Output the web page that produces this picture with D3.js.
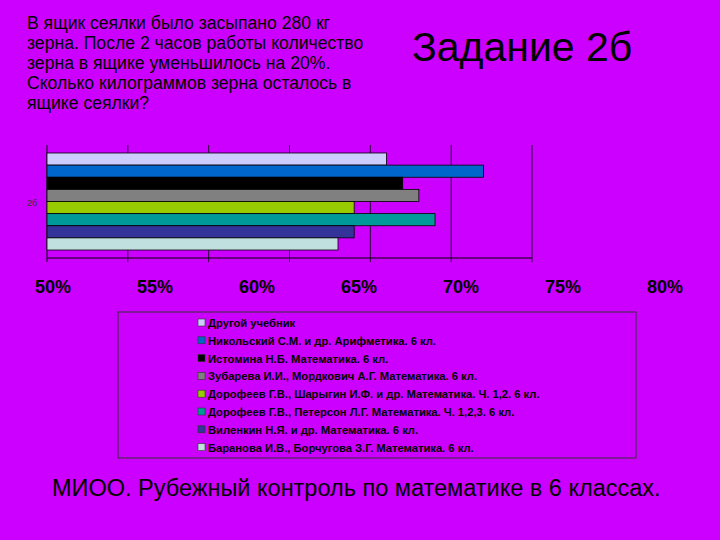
<!DOCTYPE html>
<html><head><meta charset="utf-8">
<script src="https://cdn.jsdelivr.net/npm/d3@7"></script>
<style>body{margin:0;background:#cc00ff;}svg{display:block;font-family:"Liberation Sans",Arial,sans-serif;}</style>
</head><body><svg id="c" width="720" height="540"></svg>
<script>
// series in drawing order (top to bottom)
const books = ["Другой учебник","Никольский С.М. и др. Арифметика. 6 кл.","Истомина Н.Б. Математика. 6 кл.","Зубарева И.И., Мордкович А.Г. Математика. 6 кл.","Дорофеев Г.В., Шарыгин И.Ф. и др. Математика. Ч. 1,2. 6 кл.","Дорофеев Г.В., Петерсон Л.Г. Математика. Ч. 1,2,3. 6 кл.","Виленкин Н.Я. и др. Математика. 6 кл.","Баранова И.В., Борчугова З.Г. Математика. 6 кл."];
const values = [71, 77, 72, 73, 69, 74, 69, 68];
const colors = ["#ccccff","#0066cc","#000000","#808080","#99cc00","#009999","#333399","#c0e0e0"];
const ticks = [50, 55, 60, 65, 70, 75, 80];

const svg = d3.select("#c");
svg.append("rect").attr("width",720).attr("height",540).attr("fill","#cc00ff");

const title = ["В ящик сеялки было засыпано 280  кг","зерна. После 2 часов работы количество","зерна в ящике уменьшилось на 20%.","Сколько килограммов зерна осталось в","ящике сеялки?"];
svg.append("g").selectAll("text").data(title).join("text")
  .attr("x",27).attr("y",(d,i)=>29+i*20).attr("font-size",17.6).attr("fill","#000").text(d=>d);
svg.append("text").attr("x",412).attr("y",61).attr("font-size",41).attr("fill","#000").text("Задание 2б");

const x = d3.scaleLinear().domain([50,80]).range([47,532]);
const y = d3.scaleBand().domain(d3.range(values.length)).range([153,250]);

svg.append("g").selectAll("line").data(ticks.slice(1)).join("line")
  .attr("x1",d=>x(d)).attr("x2",d=>x(d)).attr("y1",145).attr("y2",262)
  .attr("stroke","#000").attr("stroke-width",0.8);
svg.append("line").attr("x1",47).attr("x2",532).attr("y1",258).attr("y2",258).attr("stroke","#000");
svg.append("line").attr("x1",47).attr("x2",47).attr("y1",145).attr("y2",262).attr("stroke","#000");

svg.append("g").selectAll("rect").data(values).join("rect")
  .attr("x",x(50)).attr("y",(d,i)=>y(i)).attr("width",d=>x(d)-x(50)).attr("height",y.bandwidth())
  .attr("fill",(d,i)=>colors[i]).attr("stroke","#000").attr("stroke-width",0.8);

svg.append("text").attr("x",27).attr("y",206).attr("font-size",9).attr("fill","#333").text("2б");

const xl = d3.scaleLinear().domain([50,80]).range([53,665]);
svg.append("g").selectAll("text").data(ticks).join("text")
  .attr("x",d=>xl(d)).attr("y",293).attr("text-anchor","middle").attr("font-size",18).attr("font-weight","bold")
  .attr("fill","#000").text(d=>d+"%");

svg.append("rect").attr("x",118).attr("y",312).attr("width",518).attr("height",146)
  .attr("fill","none").attr("stroke","#333").attr("stroke-width",1);
const lg = svg.append("g").selectAll("g").data(books).join("g")
  .attr("transform",(d,i)=>`translate(198,${323+i*17.8})`);
lg.append("rect").attr("x",0).attr("y",-4).attr("width",7).attr("height",7)
  .attr("fill",(d,i)=>colors[i]).attr("stroke","#333").attr("stroke-width",0.6);
lg.append("text").attr("x",10).attr("y",4).attr("font-size",11.2).attr("font-weight","bold").attr("fill","#000").text(d=>d);

svg.append("text").attr("x",52).attr("y",496).attr("font-size",23.5).attr("fill","#000")
  .text("МИОО. Рубежный контроль по математике в 6 классах.");
</script></body></html>
